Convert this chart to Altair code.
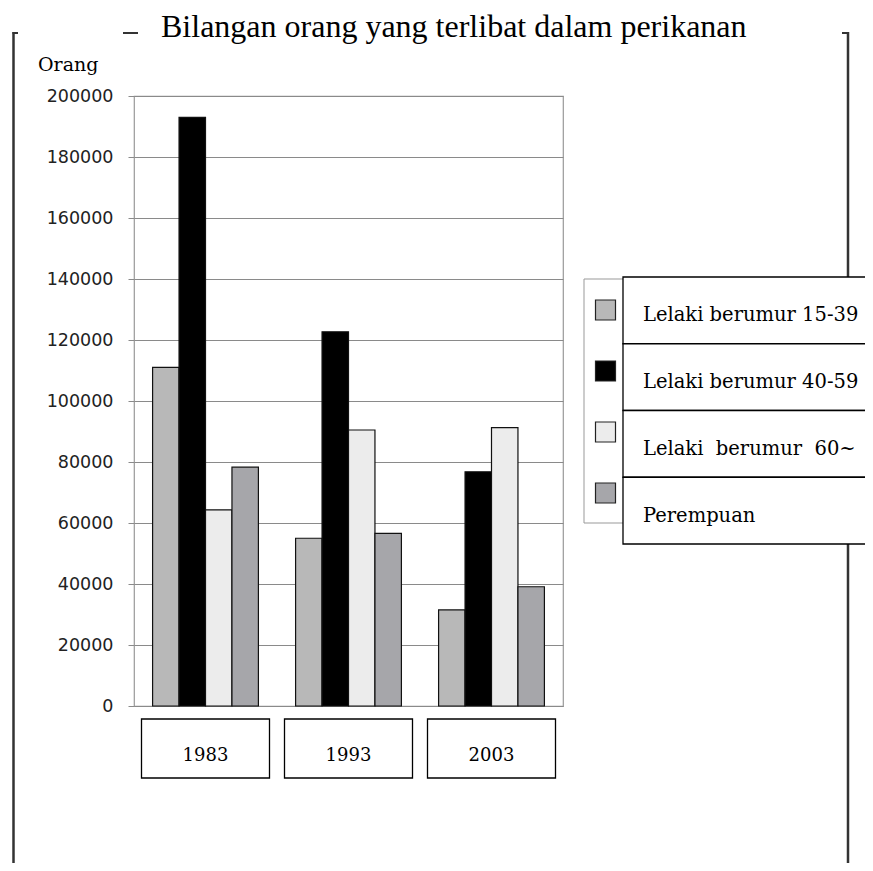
import altair as alt
import pandas as pd

years = ["1983", "1993", "2003"]
series = ["Lelaki berumur 15-39", "Lelaki berumur 40-59",
          "Lelaki\u00a0 berumur\u00a0 60~", "Perempuan"]
values = {
    series[0]: [111000, 55000, 31500],
    series[1]: [193000, 122700, 76800],
    series[2]: [64300, 90500, 91300],
    series[3]: [78300, 56600, 39100],
}
y_ticks = [0, 20000, 40000, 60000, 80000, 100000, 120000, 140000, 160000, 180000, 200000]
title_text = "Bilangan orang yang terlibat dalam perikanan"
unit_text = "Orang"

fills = ["#b8b8b8", "#000000", "#ececec", "#a6a6aa"]

rows = []
for s in series:
    for y, v in zip(years, values[s]):
        rows.append({"year": y, "series": s, "value": v})
df = pd.DataFrame(rows)
year_df = pd.DataFrame({"year": years})
legend_df = pd.DataFrame({"series": series})
one = pd.DataFrame({"k": [0]})

SERIF = "DejaVu Serif"

color = alt.Color("series:N", sort=series,
                  scale=alt.Scale(domain=series, range=fills), legend=None)
xscale = alt.Scale(domain=years, paddingInner=0.26, paddingOuter=0.13)

bars = alt.Chart(df).mark_bar(stroke="#111", strokeWidth=1.2).encode(
    x=alt.X("year:N", sort=years, scale=xscale, axis=None),
    xOffset=alt.XOffset("series:N", sort=series,
                        scale=alt.Scale(domain=series, paddingInner=0, paddingOuter=0)),
    y=alt.Y("value:Q", scale=alt.Scale(domain=[0, 200000], nice=False),
            axis=alt.Axis(values=y_ticks, title=None, domain=False,
                          grid=True, gridColor="#8a8a8a", gridWidth=1,
                          tickColor="#8a8a8a", tickSize=6, labelPadding=15,
                          labelFont="DejaVu Sans", labelFontSize=17.5,
                          labelColor="#222", format="d")),
    color=color,
)

year_boxes = alt.Chart(year_df).mark_bar(fill="white", stroke="black",
                                         strokeWidth=1.3, width=128).encode(
    x=alt.X("year:N", sort=years, scale=xscale, axis=None),
    y=alt.value(623), y2=alt.value(682),
)
year_text = alt.Chart(year_df).mark_text(font=SERIF, fontSize=18, color="black",
                                         baseline="middle").encode(
    x=alt.X("year:N", sort=years, scale=xscale, axis=None),
    y=alt.value(660),
    text="year:N",
)

legend_frame = alt.Chart(one).mark_rect(fill="white", stroke="#999",
                                        strokeWidth=1).encode(
    x=alt.value(450), x2=alt.value(495), y=alt.value(183), y2=alt.value(427),
)
legend_boxes = alt.Chart(legend_df).mark_rect(fill="white", stroke="black",
                                              strokeWidth=1.3).encode(
    x=alt.value(489), x2=alt.value(780),
    y=alt.Y("series:N", sort=series, axis=None,
            scale=alt.Scale(domain=series, range=[181, 448],
                            paddingInner=0, paddingOuter=0)),
)
legend_text = alt.Chart(legend_df).mark_text(font=SERIF, fontSize=19.5, color="black",
                                             align="left", baseline="middle",
                                             dy=5).encode(
    x=alt.value(509),
    y=alt.Y("series:N", sort=series, axis=None,
            scale=alt.Scale(domain=series, range=[181, 448],
                            paddingInner=0, paddingOuter=0)),
    text="series:N",
)
legend_sym = alt.Chart(legend_df).mark_square(size=400, opacity=1, filled=True,
                                              stroke="#222", strokeWidth=1.2).encode(
    x=alt.value(471.5),
    y=alt.Y("series:N", sort=series, axis=None,
            scale=alt.Scale(type="point", domain=series, range=[214, 397], padding=0)),
    color=color,
)

title = alt.Chart(one).mark_text(font="Liberation Serif", fontSize=32, color="black",
                                 align="left", baseline="middle").encode(
    x=alt.value(27), y=alt.value(-69), text=alt.value(title_text))
unit = alt.Chart(one).mark_text(font=SERIF, fontSize=19, color="black",
                                align="left", baseline="middle").encode(
    x=alt.value(-96), y=alt.value(-31), text=alt.value(unit_text))

dash = alt.Chart(one).mark_rule(color="#333", strokeWidth=2).encode(
    x=alt.value(-11), x2=alt.value(4), y=alt.value(-63))
lb = alt.Chart(one).mark_rule(color="#333", strokeWidth=2.5).encode(
    x=alt.value(-120.5), y=alt.value(-64), y2=alt.value(790))
lbt = alt.Chart(one).mark_rule(color="#333", strokeWidth=2).encode(
    x=alt.value(-121.5), x2=alt.value(-116), y=alt.value(-63))
rb = alt.Chart(one).mark_rule(color="#333", strokeWidth=2.5).encode(
    x=alt.value(714), y=alt.value(-64), y2=alt.value(790))
rbt = alt.Chart(one).mark_rule(color="#333", strokeWidth=2).encode(
    x=alt.value(708), x2=alt.value(715), y=alt.value(-63))

chart = alt.layer(
    rb, rbt, lb, lbt, dash,
    bars, year_boxes, year_text, legend_frame, legend_boxes, legend_sym, legend_text,
    title, unit,
).resolve_scale(y="independent").properties(
    width=429, height=610,
    autosize=alt.AutoSizeParams(type="none"),
    padding={"left": 126, "top": 88, "right": 302, "bottom": 157},
    background="white",
).configure_view(stroke="#999", strokeWidth=1.2)

chart.save("out.html", embed_options={"renderer": "svg", "actions": False})
